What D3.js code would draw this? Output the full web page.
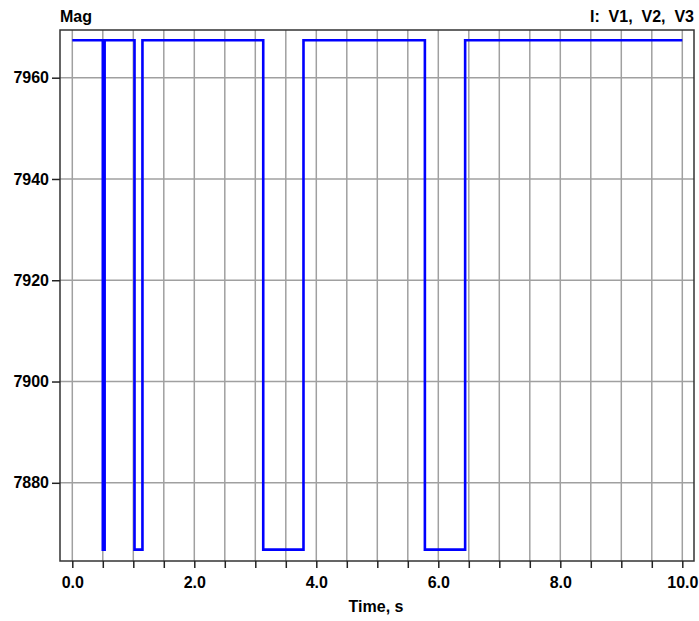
<!DOCTYPE html>
<html>
<head>
<meta charset="utf-8">
<script src="https://cdn.jsdelivr.net/npm/d3@7"></script>
<style>
  body { margin: 0; background: #fff; }
  text { font-family: "Liberation Sans", Arial, sans-serif; font-weight: bold; fill: #000; }
</style>
</head>
<body>
<div id="chart"></div>
<script>
// step signal: time of each change (s) and the level held from that time on
var stepTimes = [0.0, 0.50, 0.53, 1.02, 1.15, 3.13, 3.79, 5.78, 6.44, 10.0];
var stepValues = [7967.4, 7866.8, 7967.4, 7866.8, 7967.4, 7866.8, 7967.4, 7866.8, 7967.4, 7967.4];

var xTickValues = [0, 2, 4, 6, 8, 10];
var xGridValues = d3.range(0, 10.01, 0.5);
var yTickValues = [7880, 7900, 7920, 7940, 7960];

var yTitle = "Mag";
var legendText = "I:  V1,  V2,  V3";
var xTitle = "Time, s";

function init() {
  var w = 699, h = 621;
  var margin = { top: 30, right: 5, bottom: 60, left: 60 };

  var svg = d3.select("#chart").append("svg")
    .attr("width", w)
    .attr("height", h);

  // frame spans a bit wider than the data range
  var xScale = d3.scaleLinear().domain([0, 10]).range([72.3, 682.3]);
  var yScale = d3.scaleLinear().domain([7880, 7960]).range([482.8, 77.7]);

  var left = margin.left, right = w - margin.right;
  var top = margin.top, bottom = h - margin.bottom;

  var dataset = stepTimes.map(function (t, i) {
    return { t: t, v: stepValues[i] };
  });

  // grid
  svg.append("g").selectAll("line")
    .data(xGridValues)
    .enter().append("line")
    .attr("x1", function (d) { return xScale(d); })
    .attr("x2", function (d) { return xScale(d); })
    .attr("y1", top)
    .attr("y2", bottom)
    .attr("stroke", "#a0a0a0")
    .attr("stroke-width", 1.5);

  svg.append("g").selectAll("line")
    .data(yTickValues)
    .enter().append("line")
    .attr("x1", left)
    .attr("x2", right)
    .attr("y1", function (d) { return yScale(d); })
    .attr("y2", function (d) { return yScale(d); })
    .attr("stroke", "#a0a0a0")
    .attr("stroke-width", 1.5);

  // signal
  var line = d3.line()
    .curve(d3.curveStepAfter)
    .x(function (d) { return xScale(d.t); })
    .y(function (d) { return yScale(d.v); });

  svg.append("path")
    .datum(dataset)
    .attr("d", line)
    .attr("fill", "none")
    .attr("stroke", "#0000ff")
    .attr("stroke-width", 2.6);

  // frame
  svg.append("rect")
    .attr("x", left)
    .attr("y", top)
    .attr("width", right - left)
    .attr("height", bottom - top)
    .attr("fill", "none")
    .attr("stroke", "#333")
    .attr("stroke-width", 1.5);

  // x ticks
  var xAxis = d3.axisBottom(xScale)
    .tickValues(xGridValues)
    .tickSize(7)
    .tickFormat(function (d) { return xTickValues.indexOf(d) >= 0 ? d.toFixed(1) : ""; });

  var gx = svg.append("g")
    .attr("transform", "translate(0," + bottom + ")")
    .call(xAxis);
  gx.select(".domain").remove();
  gx.selectAll(".tick line").attr("stroke", "#222").attr("stroke-width", 1.5);
  gx.selectAll(".tick text")
    .attr("y", 16)
    .attr("dy", "0.71em")
    .style("font-size", "16px")
    .style("font-family", "'Liberation Sans', Arial, sans-serif")
    .style("font-weight", "bold")
    .attr("fill", "#000");

  // y ticks
  var yAxis = d3.axisLeft(yScale)
    .tickValues(yTickValues)
    .tickSize(8)
    .tickFormat(d3.format("d"));

  var gy = svg.append("g")
    .attr("transform", "translate(" + left + ",0)")
    .call(yAxis);
  gy.select(".domain").remove();
  gy.selectAll(".tick line").attr("stroke", "#222").attr("stroke-width", 1.5);
  gy.selectAll(".tick text")
    .attr("x", -11)
    .style("font-size", "16px")
    .style("font-family", "'Liberation Sans', Arial, sans-serif")
    .style("font-weight", "bold")
    .attr("fill", "#000");

  // titles
  svg.append("text")
    .attr("x", left)
    .attr("y", 22)
    .style("font-size", "16px")
    .text(yTitle);

  svg.append("text")
    .attr("x", right)
    .attr("y", 22)
    .attr("text-anchor", "end")
    .style("font-size", "16px")
    .style("white-space", "pre")
    .text(legendText);

  svg.append("text")
    .attr("x", 376)
    .attr("y", 612)
    .attr("text-anchor", "middle")
    .style("font-size", "16px")
    .text(xTitle);
}

window.onload = init;
</script>
</body>
</html>
